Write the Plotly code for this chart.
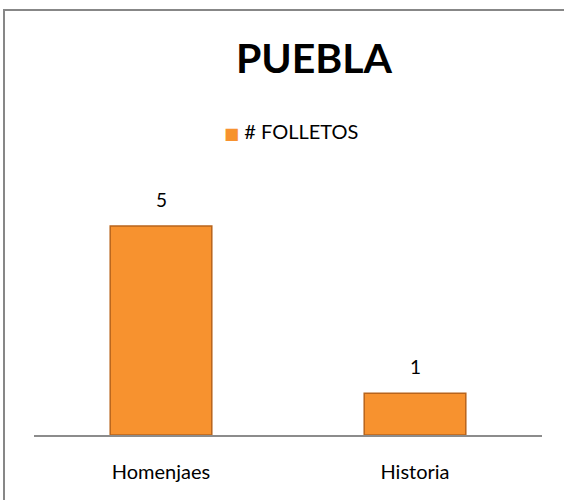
import plotly.graph_objects as go

# Chart data
categories = ["Homenjaes", "Historia"]
folletos = [5, 1]
series_name = "# FOLLETOS"
chart_title = "PUEBLA"

bar_color = "#F7922F"
W, H = 564, 500
L, R, T, B = 34, 22, 180, 65
plot_w = W - L - R
plot_h = H - T - B

fig = go.Figure()
fig.add_trace(go.Bar(
    name=series_name,
    x=categories,
    y=folletos,
    marker=dict(color=bar_color, line=dict(color="#B8641C", width=1.5)),
    showlegend=False,
))

# data labels above the bars
for cat, val in zip(categories, folletos):
    fig.add_annotation(x=cat, y=val, text=str(val), showarrow=False,
                       yanchor="bottom", yshift=13,
                       font=dict(size=19, color="black"))

# legend entry (small square + series name)
fig.add_annotation(xref="paper", yref="paper",
                   x=(222 - L) / plot_w, y=(H - B - 131) / plot_h,
                   xanchor="left", yanchor="middle", showarrow=False,
                   text=(f"<span style='color:{bar_color};font-family:DejaVu Sans;"
                         f"font-size:16px'>■</span> {series_name}"),
                   font=dict(size=20, color="black"))

fig.update_layout(
    width=W,
    height=H,
    margin=dict(l=L, r=R, t=T, b=B),
    paper_bgcolor="white",
    plot_bgcolor="white",
    font=dict(family="Lato, Carlito, Open Sans, sans-serif", color="black"),
    bargap=0.6,
    title=dict(text=f"<b>{chart_title}</b>", x=314 / W, xanchor="center",
               y=1 - 59 / H, yanchor="middle", font=dict(size=41)),
    xaxis=dict(showline=True, linecolor="#8C8C8C", linewidth=1.5,
               ticks="", tickfont=dict(size=20), ticklabelstandoff=18,
               showgrid=False),
    yaxis=dict(range=[0, 5 * plot_h / 209], visible=False, showgrid=False,
               zeroline=False),
)

# chart border (only top and left edges fall inside the picture)
fig.add_shape(type="rect", xref="paper", yref="paper",
              x0=(4 - L) / plot_w, x1=(620 - L) / plot_w,
              y0=(H - B - 560) / plot_h, y1=(H - B - 10) / plot_h,
              line=dict(color="#878787", width=2))

fig.write_html("out.html", config={"displayModeBar": False},
               post_script="document.body.style.margin='0';")
